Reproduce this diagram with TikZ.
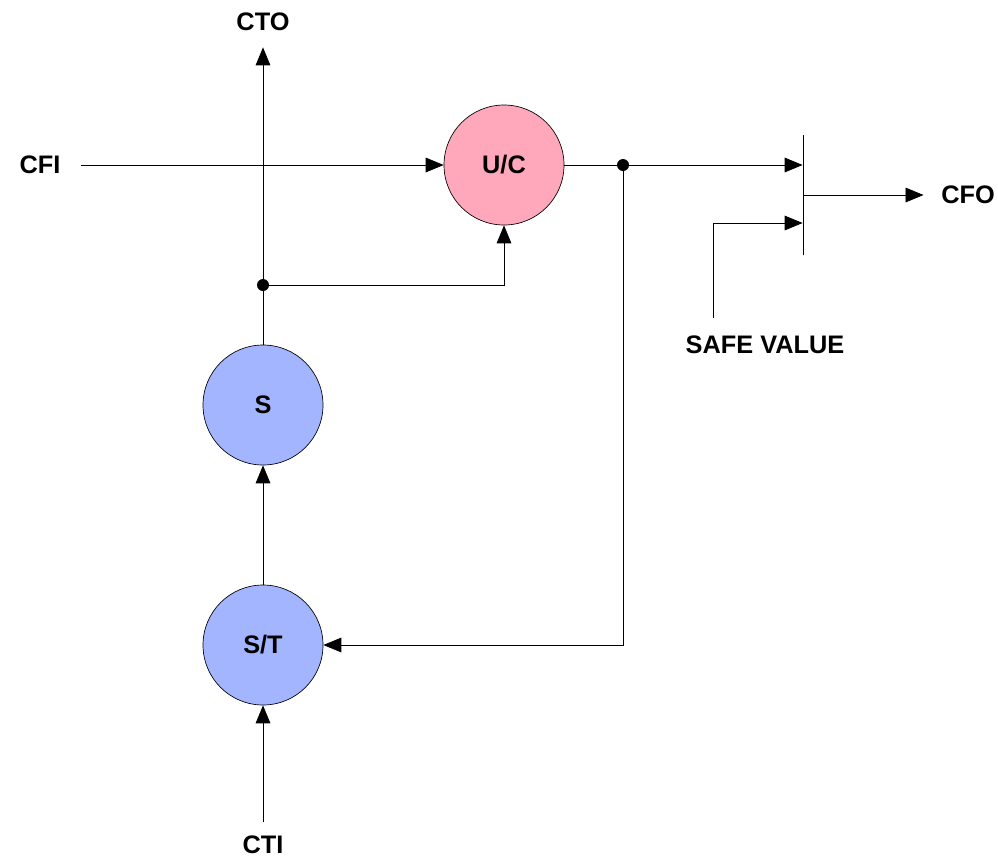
\documentclass[tikz,border=0pt]{standalone}
\usepackage{fontspec}
\newfontfamily\lblfont{Liberation Sans}
\usepackage{tikz}
\usetikzlibrary{arrows.meta}
\usetikzlibrary{positioning}

\begin{document}
\begin{tikzpicture}
    [
    x=0.75pt, y=-0.75pt,
    line width=0.6pt,
    >={Triangle[length=13.5pt,width=11pt]},
    txt/.style={inner sep=0pt,font=\lblfont\bfseries\fontsize{19}{22}\selectfont},
    block/.style={circle,draw,line width=0.5pt,inner sep=0pt,minimum size=90pt,font=\lblfont\bfseries\fontsize{19}{22}\selectfont},
    pink/.style={fill={rgb,255:red,255;green,168;blue,188}},
    blue/.style={fill={rgb,255:red,163;green,181;blue,255}},
    dot/.style={circle,fill=black,inner sep=0pt,minimum size=9pt}
    ]
    \useasboundingbox (0,0) rectangle (998,858);
    % labels
    \node (cto) at (263,22) [txt] {CTO};
    \node (cfi) at (40,165) [txt] {CFI};
    \node (cfo) at (968,195) [txt] {CFO};
    \node (safe) at (765,345) [txt] {SAFE VALUE};
    \node (cti) at (263,845) [txt] {CTI};
    % blocks
    \node (uc) at (504,165) [block,pink] {U/C};
    \node (s) at (263,405) [block,blue] {S};
    \node (st) at (263,645) [block,blue] {S/T};
    \node (mux) at (803,195) [draw,inner sep=0pt,minimum width=0pt,minimum height=90pt] {};
    \node (j1) at (623,165) [dot] {};
    \node (j2) at (263,285) [dot] {};
    \coordinate (svin) at (713,318);
    % connections
    \draw [->] ([xshift=15pt]cfi.east) -- (uc);
    \draw (uc) -- (j1);
    \draw [->] (j1) -- (j1 -| mux.west);
    \draw [->] (svin) |- (mux.west |- 0,223);
    \draw [->] (mux) -- ([xshift=-13pt]cfo.west);
    \draw [->] (s) -- ([yshift=-12pt]cto.south);
    \draw [->] (j2) -| (uc);
    \draw [->] (st) -- (s);
    \draw [->] (j1) |- (st);
    \draw [->] ([yshift=10pt]cti.north) -- (st);
  \end{tikzpicture}
\end{document}
